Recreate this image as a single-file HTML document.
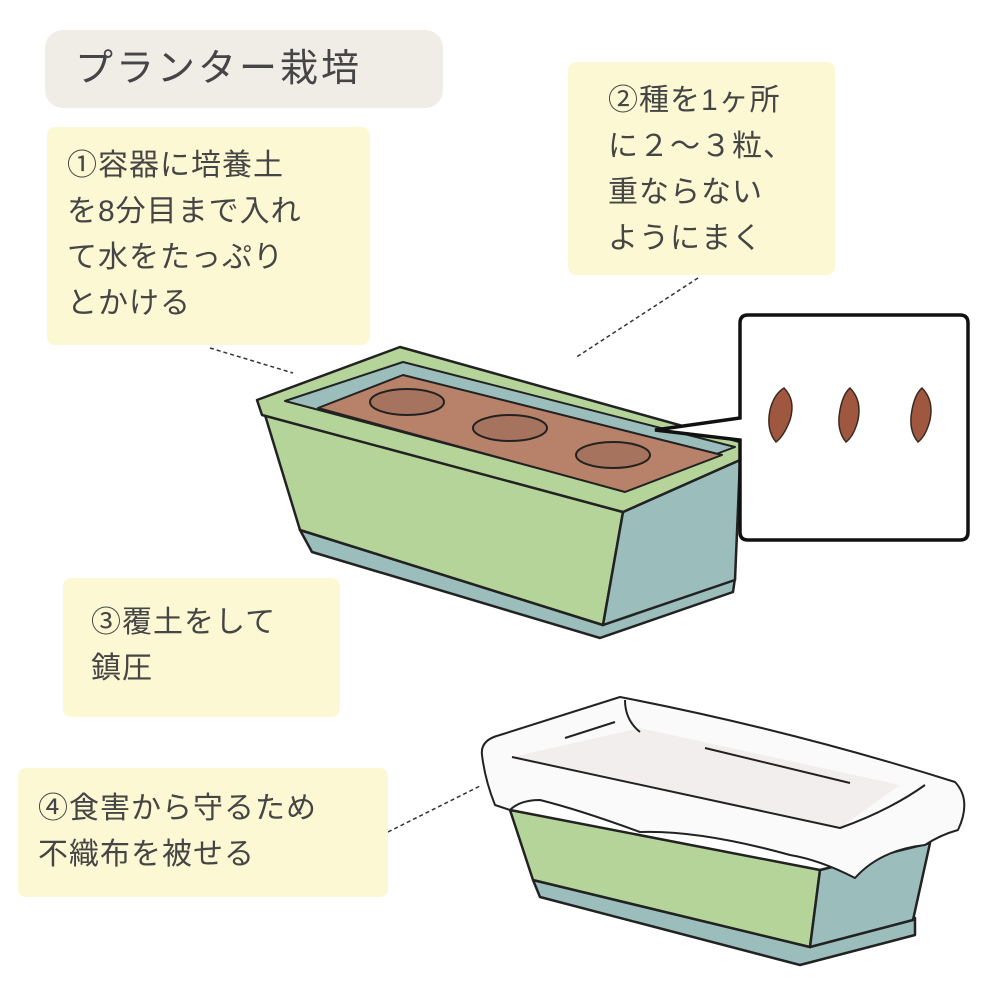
<!DOCTYPE html>
<html><head><meta charset="utf-8"><style>
body{margin:0;background:#fff;}
#c{position:relative;width:1000px;height:1000px;overflow:hidden;font-family:"Liberation Sans","Noto Sans CJK JP",sans-serif;color:#454545;}
.b{position:absolute;background:#fdf8d4;border-radius:8px;font-size:30px;line-height:46px;letter-spacing:1px;box-sizing:border-box;}
svg{position:absolute;left:0;top:0;}
</style></head><body><div id="c">
<svg width="1000" height="1000" viewBox="0 0 1000 1000">
<g stroke="#333" stroke-width="1.5" stroke-dasharray="4,3" fill="none">
<path d="M210 348 L293 373"/><path d="M698 278 L575 358"/><path d="M388 832 L482 785"/>
</g>
<!-- planter 1 -->
<g stroke="#222" stroke-width="2.5" stroke-linejoin="round">
<polygon points="300,530 603,625 735,578 733,592 600,638 312,552" fill="#9bbdbb"/>
<polygon points="265,415 623,512 603,625 300,530" fill="#b5d49a"/>
<polygon points="623,512 740,460 735,580 603,625" fill="#9bbdbb"/>
<polygon points="257,400 400,347 740,442 740,460 623,512 262,415" fill="#b5d49a"/>
<polygon points="285,401 403,362 735,447 620,490" fill="#9bbdbb" stroke-width="2"/>
<polygon points="318,408 403,375 722,455 625,492" fill="#b8826a" stroke-width="2"/>
<ellipse cx="407" cy="402" rx="37" ry="13" fill="#a6735e" stroke-width="2"/>
<ellipse cx="510" cy="428" rx="37" ry="13" fill="#a6735e" stroke-width="2"/>
<ellipse cx="613" cy="455" rx="37" ry="13" fill="#a6735e" stroke-width="2"/>
</g>
<path d="M748 315 H960 Q968 315 968 323 V532 Q968 540 960 540 H748 Q740 540 740 532 V440 L655 430 L740 418 V323 Q740 315 748 315Z" fill="#fff" stroke="#111" stroke-width="3.5"/>
<g fill="#a0573f" stroke="#3a2a22" stroke-width="1.5">
<path d="M784 388 Q796 400 790 420 Q784 436 776 442 Q766 430 770 410 Q774 394 784 388Z"/>
<path d="M850 388 Q862 400 858 420 Q854 436 846 442 Q836 430 840 410 Q843 394 850 388Z"/>
<path d="M922 388 Q934 400 930 420 Q926 436 918 442 Q908 430 912 410 Q915 394 922 388Z"/>
</g>
<!-- planter 2 -->
<g stroke="#222" stroke-width="2.5" stroke-linejoin="round">
<polygon points="533,880 810,947 915,918 915,935 800,965 540,897" fill="#9bbdbb"/>
<polygon points="510,810 820,870 810,947 533,880" fill="#b5d49a"/>
<polygon points="820,870 930,843 913,920 810,947" fill="#9bbdbb"/>
<path d="M482,755 Q480,740 500,735 L620,697 Q790,730 955,782 Q972,800 958,830 Q940,835 925,845 Q880,850 855,878 Q820,860 790,855 Q700,830 640,832 Q580,810 540,800 Q520,800 510,810 L495,805 Q485,780 482,755 Z" fill="#fafafa" stroke-width="2"/>
<polygon points="512,757 640,728 900,785 840,828" fill="#f3eeee" stroke="none"/>
<path d="M512 757 Q620 780 840 828 Q890 810 925 785 M565 738 L615 722 M705 748 L850 783 M625 700 Q625 720 640 732" fill="none" stroke-width="2"/>
</g>
</svg>
<div class="b" style="left:45px;top:30px;width:398px;height:78px;background:#f0ece6;border-radius:18px;font-size:38px;line-height:78px;padding-left:30px;letter-spacing:3px">プランター栽培</div>
<div class="b" style="left:47px;top:127px;width:323px;height:218px;padding:16px 0 0 20px">①容器に培養土<br>を8分目まで入れ<br>て水をたっぷり<br>とかける</div>
<div class="b" style="left:568px;top:62px;width:267px;height:213px;padding:16px 0 0 40px">②種を1ヶ所<br>に２～３粒、<br>重ならない<br>ようにまく</div>
<div class="b" style="left:63px;top:578px;width:277px;height:139px;padding:22px 0 0 28px">③覆土をして<br>鎮圧</div>
<div class="b" style="left:18px;top:768px;width:370px;height:129px;padding:18px 0 0 20px">④食害から守るため<br>不織布を被せる</div>
</div></body></html>
